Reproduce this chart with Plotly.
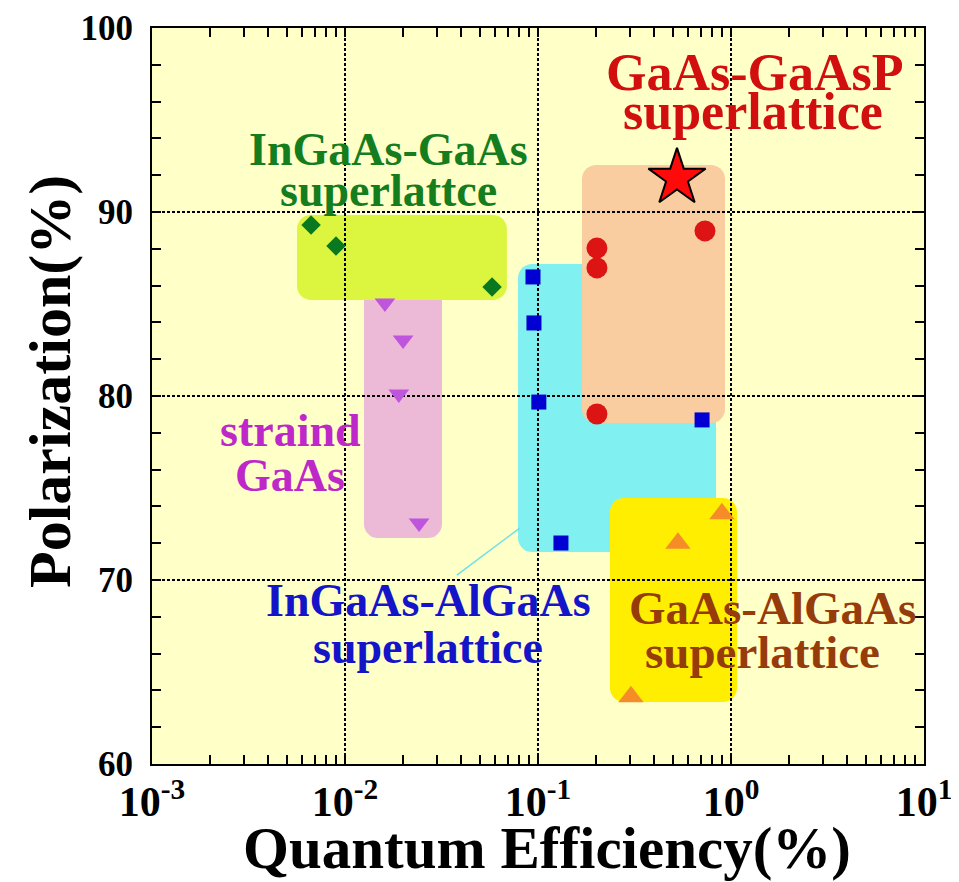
import numpy as np
import plotly.graph_objects as go

# ---------------- data ----------------
ingaas_gaas_qe = [0.00667, 0.00898, 0.0578]
ingaas_gaas_pol = [89.3, 88.15, 85.92]

strained_qe = [0.0161, 0.0200, 0.0190, 0.0242]
strained_pol = [85.05, 83.04, 80.11, 73.10]

ingaas_algaas_qe = [0.0942, 0.0953, 0.101, 0.1315, 0.708]
ingaas_algaas_pol = [86.47, 83.97, 79.67, 72.01, 78.70]

gaas_gaasp_qe = [0.202, 0.202, 0.733, 0.202]
gaas_gaasp_pol = [88.04, 86.96, 88.97, 79.02]

star_qe = [0.525]
star_pol = [91.85]

gaas_algaas_qe = [0.897, 0.531, 0.303]
gaas_algaas_pol = [73.6, 72.0, 63.65]

x_tick_vals = [0.001, 0.01, 0.1, 1, 10]
x_tick_text = ["10<sup>-3</sup>", "10<sup>-2</sup>", "10<sup>-1</sup>", "10<sup>0</sup>", "10<sup>1</sup>"]
y_tick_vals = [60, 70, 80, 90, 100]

# highlight boxes: (qe_min, qe_max, pol_min, pol_max, colour)  -- drawing order
box_pink = (0.01254, 0.0318, 72.28, 86.0, "rgb(236,186,214)")
box_green = (0.00564, 0.0690, 85.22, 89.84, "rgb(220,246,64)")
box_cyan = (0.0788, 0.836, 71.52, 87.17, "rgb(128,240,240)")
box_peach = (0.169, 0.931, 78.53, 92.55, "rgb(250,205,160)")
box_yellow = (0.236, 1.074, 63.37, 74.46, "rgb(255,238,0)")

x_range_log = [-3, 1]
y_range = [60, 100]

# ---------------- layout geometry ----------------
OFF = 8                      # default page margin of the html body
W, H = 959 - OFF, 882 - OFF
ML, MR, MT, MB = 152 - OFF, 35, 28 - OFF, 118
PW = W - ML - MR
PH = H - MT - MB
PX_PER_DEC = PW / (x_range_log[1] - x_range_log[0])
PX_PER_Y = PH / (y_range[1] - y_range[0])

FONT = "Liberation Serif, Times New Roman, serif"


def rounded_path(box, r_px=14):
    x0, x1, y0, y1, _ = box
    lx0, lx1 = np.log10(x0), np.log10(x1)
    rx = r_px / PX_PER_DEC
    ry = r_px / PX_PER_Y
    corners = [(lx1 - rx, y1 - ry, 0, 90), (lx0 + rx, y1 - ry, 90, 180),
               (lx0 + rx, y0 + ry, 180, 270), (lx1 - rx, y0 + ry, 270, 360)]
    pts = []
    for cx, cy, a0, a1 in corners:
        for a in np.linspace(a0, a1, 10):
            t = np.radians(a)
            pts.append((10 ** (cx + rx * np.cos(t)), cy + ry * np.sin(t)))
    return "M " + " L ".join(f"{x:.7f},{y:.4f}" for x, y in pts) + " Z"


def px_to_paper(px, py):
    # page pixel -> paper fraction
    return (px - OFF - ML) / PW, 1 - (py - OFF - MT) / PH


fig = go.Figure()

shapes = []
for b in [box_pink, box_green, box_cyan, box_peach, box_yellow]:
    shapes.append(dict(type="path", path=rounded_path(b), xref="x", yref="y",
                       fillcolor=b[4], line=dict(width=0), layer="below"))

# thin leader line from the cyan box to its label
shapes.append(dict(type="line", xref="x", yref="y", x0=0.0807, y0=72.83, x1=0.038, y1=70.27,
                   line=dict(color="rgb(110,225,230)", width=1.5), layer="below"))

fig.add_trace(go.Scatter(x=ingaas_gaas_qe, y=ingaas_gaas_pol, mode="markers",
                         marker=dict(symbol="diamond", size=15, color="rgb(10,120,30)", line=dict(width=0))))
fig.add_trace(go.Scatter(x=strained_qe, y=strained_pol, mode="markers",
                         marker=dict(symbol="triangle-down", size=18, color="rgb(190,85,220)", line=dict(width=0))))
fig.add_trace(go.Scatter(x=ingaas_algaas_qe, y=ingaas_algaas_pol, mode="markers",
                         marker=dict(symbol="square", size=15, color="rgb(0,0,210)", line=dict(width=0))))
fig.add_trace(go.Scatter(x=gaas_gaasp_qe, y=gaas_gaasp_pol, mode="markers",
                         marker=dict(symbol="circle", size=21, color="rgb(220,20,20)", line=dict(width=0))))
fig.add_trace(go.Scatter(x=gaas_algaas_qe, y=gaas_algaas_pol, mode="markers",
                         marker=dict(symbol="triangle-up", size=22, color="rgb(245,140,40)", line=dict(width=0))))
fig.add_trace(go.Scatter(x=star_qe, y=star_pol, mode="markers",
                         marker=dict(symbol="star", size=43, color="rgb(255,10,10)",
                                     line=dict(width=2, color="black"))))

labels = [
    ("GaAs-GaAsP", 755, 73, "rgb(210,15,15)", 52),
    ("superlattice", 753, 111, "rgb(210,15,15)", 52),
    ("InGaAs-GaAs", 388, 149, "rgb(20,125,30)", 46),
    ("superlattce", 388, 190, "rgb(20,125,30)", 46),
    ("straind", 290, 430, "rgb(190,40,200)", 46),
    ("GaAs", 290, 475, "rgb(190,40,200)", 46),
    ("InGaAs-AlGaAs", 428, 600, "rgb(20,20,200)", 46),
    ("superlattice", 428, 647, "rgb(20,20,200)", 46),
    ("GaAs-AlGaAs", 772, 608, "rgb(150,60,10)", 47),
    ("superlattice", 762, 652, "rgb(150,60,10)", 47),
]
annotations = []
for txt, px, py, col, sz in labels:
    ax_, ay_ = px_to_paper(px, py)
    annotations.append(dict(text=f"<b>{txt}</b>", xref="paper", yref="paper",
                            x=ax_, y=ay_, xanchor="center", yanchor="middle", showarrow=False,
                            font=dict(family=FONT, size=sz, color=col)))

# axis titles
tx, ty = px_to_paper(547, 848)
annotations.append(dict(text="<b>Quantum Efficiency(%)</b>", xref="paper", yref="paper",
                        x=tx, y=ty, xanchor="center", yanchor="middle", showarrow=False,
                        font=dict(family=FONT, size=59, color="black")))
tx, ty = px_to_paper(50, 382)
annotations.append(dict(text="<b>Polarization(%)</b>", xref="paper", yref="paper",
                        x=tx, y=ty, xanchor="center", yanchor="middle", showarrow=False,
                        textangle=-90, font=dict(family=FONT, size=60, color="black")))

axis_common = dict(showline=True, linecolor="black", linewidth=2, mirror="allticks",
                   ticks="inside", ticklen=9, tickwidth=1.5, tickcolor="black",
                   showgrid=True, gridcolor="black", gridwidth=1.6, griddash="3px,2px",
                   zeroline=False, automargin=False)

fig.update_layout(
    width=W, height=H,
    margin=dict(l=ML, r=MR, t=MT, b=MB),
    paper_bgcolor="white",
    plot_bgcolor="rgb(255,255,200)",
    showlegend=False,
    shapes=shapes,
    annotations=annotations,
    xaxis=dict(type="log", range=x_range_log, tickvals=x_tick_vals, ticktext=x_tick_text,
               tickfont=dict(family=FONT, size=42, color="black", weight="bold"),
               ticklabelstandoff=0,
               minor=dict(ticks="inside", ticklen=9, tickwidth=1.5, tickcolor="black",
                          dtick="D1", showgrid=False),
               **axis_common),
    yaxis=dict(range=y_range, tickvals=y_tick_vals,
               tickfont=dict(family=FONT, size=35, color="black", weight="bold"),
               ticklabelstandoff=10,
               minor=dict(ticks="inside", ticklen=9, tickwidth=1.5, tickcolor="black",
                          dtick=2, showgrid=False),
               **axis_common),
)

fig.write_html("out.html")
